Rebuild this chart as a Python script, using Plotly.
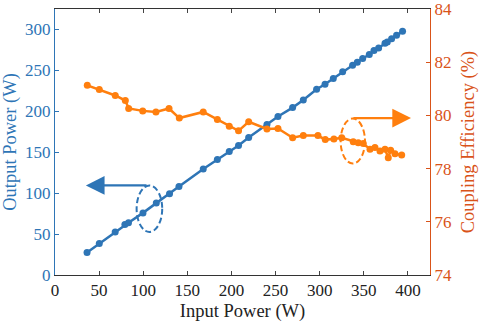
import plotly.graph_objects as go

# Output power (blue, left axis)
in_power_out = [36.3, 50.2, 68.2, 79.2, 83.3, 99.7, 114.8, 129.8, 140.5, 168, 184, 197.5,
                208, 219.5, 240.2, 252.7, 269.3, 281.4, 296.5, 306, 315.4, 326, 337.3,
                342.6, 348.7, 356.2, 361.5, 366.8, 374, 376.6, 381.5, 387.1, 393.9]
out_power = [27.6, 38.5, 52.6, 61.6, 63.8, 75.9, 88.1, 99.3, 108.1, 129.6, 141, 151,
             158.3, 168, 183.9, 193.6, 204.5, 213.9, 226.9, 233, 240.2, 248.2, 256.4,
             260, 264.5, 269.4, 274.2, 277.4, 283.1, 284.7, 288.8, 292.8, 297.7]

# Coupling efficiency (orange, right axis)
in_power_eff = [36.6, 50.2, 68.3, 79.7, 83.5, 99.4, 114.4, 129.2, 140.9, 168, 184, 197.5,
                208, 219.5, 240.2, 252.7, 269.3, 281.4, 298, 306.3, 316.1, 325, 338,
                343.7, 349.4, 357, 362.6, 368.3, 374, 377.7, 380.4, 385.3, 392.9]
efficiency = [81.13, 80.97, 80.75, 80.56, 80.26, 80.17, 80.13, 80.26, 79.9, 80.13, 79.85,
              79.59, 79.42, 79.76, 79.49, 79.51, 79.16, 79.24, 79.24, 79.09, 79.11, 79.16,
              79.01, 78.97, 78.94, 78.73, 78.79, 78.66, 78.73, 78.41, 78.69, 78.56, 78.51]

x_ticks = [0, 50, 100, 150, 200, 250, 300, 350, 400]
y1_ticks = [0, 50, 100, 150, 200, 250, 300]
y2_ticks = [74, 76, 78, 80, 82, 84]

BLUE = "#2E75B6"
ORANGE = "#FF7F0E"
ORANGE_AX = "#D95319"
FONT = "Liberation Serif"

fig = go.Figure()
fig.add_trace(go.Scatter(x=in_power_out, y=out_power, mode="lines+markers",
                         line=dict(color=BLUE, width=2.5),
                         marker=dict(color=BLUE, size=7), yaxis="y", showlegend=False))
fig.add_trace(go.Scatter(x=in_power_eff, y=efficiency, mode="lines+markers",
                         line=dict(color=ORANGE, width=2.5),
                         marker=dict(color=ORANGE, size=7), yaxis="y2", showlegend=False))

# Dashed ellipses
fig.add_shape(type="circle", xref="x", yref="y", x0=92.5, x1=121.5, y0=52.6, y1=109.4,
              line=dict(color=BLUE, width=2, dash="6px,3px"))
fig.add_shape(type="circle", xref="x", yref="y2", x0=323.7, x1=351.3, y0=78.19, y1=79.88,
              line=dict(color=ORANGE, width=2, dash="6px,3px"))

# Arrows
fig.add_annotation(x=35, y=109.4, ax=105.5, ay=109.4, xref="x", yref="y", axref="x", ayref="y",
                   showarrow=True, arrowhead=2, arrowsize=1.7, arrowwidth=2.2,
                   arrowcolor=BLUE, text="")
fig.add_annotation(x=403.5, y=79.9, ax=336.5, ay=79.9, xref="x", yref="y2", axref="x", ayref="y2",
                   showarrow=True, arrowhead=2, arrowsize=1.7, arrowwidth=2.2,
                   arrowcolor=ORANGE, text="")

fig.update_layout(
    width=482, height=326,
    margin=dict(l=55, r=52, t=9, b=51, autoexpand=False),
    paper_bgcolor="white", plot_bgcolor="white",
    font=dict(family=FONT, size=17, color="#222"),
    xaxis=dict(range=[0, 425], tickvals=x_ticks, ticks="inside", ticklen=4,
               showline=True, linecolor="#333", linewidth=1, mirror="ticks",
               showgrid=False, zeroline=False, ticklabeloverflow="allow",
               title=dict(text="Input Power (W)", font=dict(size=18.5, family=FONT, color="#222"),
                          standoff=4),
               tickfont=dict(size=17, family=FONT, color="#222")),
    yaxis=dict(range=[0, 325], tickvals=y1_ticks, ticks="inside", ticklen=4,
               showline=True, linecolor=BLUE, linewidth=1, tickcolor=BLUE,
               showgrid=False, zeroline=False, ticklabeloverflow="allow",
               title=dict(text="Output Power (W)", font=dict(size=18.5, family=FONT, color=BLUE),
                          standoff=4),
               tickfont=dict(size=17, family=FONT, color=BLUE)),
    yaxis2=dict(range=[74, 84.0001], tickvals=y2_ticks, ticks="inside", ticklen=4,
                overlaying="y", side="right",
                showline=True, linecolor=ORANGE_AX, linewidth=1, tickcolor=ORANGE_AX,
                showgrid=False, zeroline=False, ticklabeloverflow="allow",
                title=dict(text="Coupling Efficiency (%)", font=dict(size=18.5, family=FONT, color=ORANGE_AX),
                           standoff=10),
                tickfont=dict(size=17, family=FONT, color=ORANGE_AX)),
)

fig.write_html("out.html")
